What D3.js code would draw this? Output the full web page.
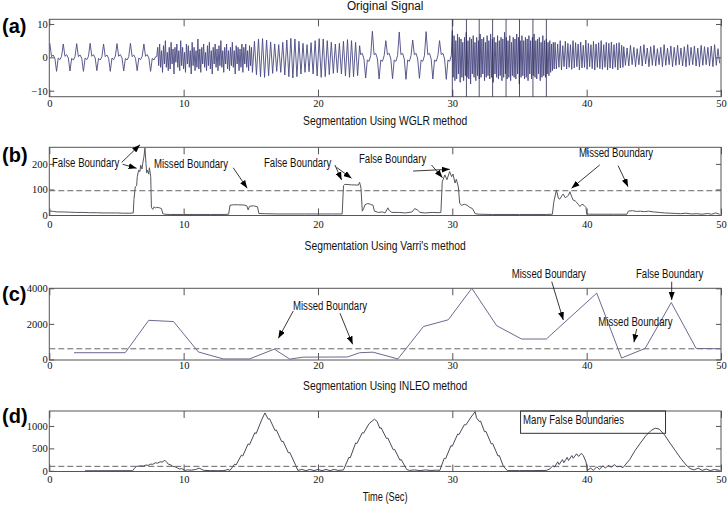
<!DOCTYPE html>
<html>
<head>
<meta charset="utf-8">
<script src="https://cdn.jsdelivr.net/npm/d3@7"></script>
<style>
  body { margin: 0; background: #fff; }
</style>
</head>
<body>
<svg id="chart" width="727" height="505"></svg>
<script>
// ---- data ----
var xTicks = [0, 10, 20, 30, 40, 50];
var aTicks = [-10, 0, 10];
var bTicks = [0, 100, 200];
var cTicks = [0, 2000, 4000];
var dTicks = [0, 500, 1000];

// original signal, one list of extrema per stretch, evenly spread over [start, end]
var sigA = [4.2, 0.2, 0.7, -0.3, -4.2, -0.2, -0.7, 0.3,
            4.0, 0.3, 0.8, -0.2, -4.1, -0.3, -0.8, 0.2,
            4.1, 0.2, 0.7, -0.3, -4.2, -0.2, -0.7, 0.3,
            4.2, 0.3, 0.8, -0.2, -4.0, -0.3, -0.8, 0.2,
            4.0, 0.2, 0.7, -0.3, -4.2, -0.2, -0.7, 0.3,
            4.1, 0.3, 0.8, -0.2, -4.1, -0.3, -0.8, 0.2,
            4.2, 0.2, 0.7, -0.3, -4.0, -0.2, -0.7, 0.3,
            4.0, 0.3, 0.8, -0.2, -4.2, -0.3, -0.8, 0.2];
var sigB = [0.3, 3, -2.5, 4, -3, 2, -4.5, 3.5, -2, 5,
            -3, 1.5, -4, 3, -3.5, 4.5, -2, 2.5, -5, 3,
            -1.5, 4, -3, 2, -4, 5, -2.5, 3, -3.5, 1.5,
            -4.5, 4, -2, 3.5, -3, 2, -5, 4.5, -2.5, 3,
            -4, 2, -3, 5.5, -3.5, 2.5, -4.5, 3, -2, 4,
            -3, 1.5, -4, 3.5, -2.5, 4.5, -3.5, 2, -5, 3,
            -2, 4, -3, 2.5, -4, 3.5, -2.5, 5, -3, 2,
            -4.5, 3, -2, 4, -3.5, 2, -4, 3, -2.5, 4.5,
            -3, 2, -5, 3.5, -2, 3, -4, 2.5, -3, 4,
            -4.5, 3, -2, 4, -3, 2, -4, 3.5, -2.5, 3];
var sigC = [-4.5, 4.8, -5.2, 5.5, -5.8, 5.6, -6, 5.2, -5.5, 4.6,
            -4.8, 4, -4.2, 3.8, -4.5, 4.5, -5.3, 5.2, -5.8, 5.7,
            -6.2, 5.5, -5.8, 4.8, -5, 4.2, -4.5, 3.8, -4.3, 4.4,
            -5, 5, -5.6, 5.6, -6, 5.5, -5.8, 5, -5.2, 4.5,
            -4.8, 4, -4.6, 4.2, -5, 4.8, -5.6, 5.3, -6, 5,
            -5.8, 4.5, -5.5, 3.5];
var sigD = [0.8, 1.2, -0.5, -6.2, -0.8, -1.2, 0.5,
            7.8, 0.8, 1.2, -0.5, -6.5, -0.8, -1.2, 0.5,
            5.0, 0.8, 1.2, -0.5, -6.4, -0.8, -1.2, 0.5,
            7.6, 0.8, 1.2, -0.5, -6.6, -0.8, -1.2, 0.5,
            5.2, 0.8, 1.2, -0.5, -6.3, -0.8, -1.2, 0.5,
            7.7, 0.8, 1.2, -0.5, -6.5, -0.8, -1.2, 0.5,
            5.0, 0.8, 1.2, -0.5, -6.6, -0.8, -1.2, 0.5];
var sigE = [8, -6, 6.5, -7, 5, -6.5, 7, -5, 6, -7.5,
            5.5, -6, 4.5, -7, 6, -5.5, 7.5, -6, 5, -6.5,
            6, -8, 5.5, -5, 6.5, -6, 4.5, -7, 6, -5.5,
            5, -6.5, 7, -6, 5.5, -5, 6, -7, 4.5, -6,
            6.5, -5.5, 5, -6.5, 7, -6, 5.5, -7.5, 6, -5,
            4.5, -6, 6.5, -6.5, 5, -5.5, 6, -7, 5.5, -6,
            7.5, -5, 6, -6.5, 5, -6, 6.5, -7, 4.5, -5.5,
            6, -6, 5.5, -6.5, 7, -5, 6, -8, 5, -6,
            6.5, -5.5, 5, -6.5, 6, -6, 5.5, -7, 6.5, -5,
            5, -6.5, 6, -5.5, 7, -6, 5, -6.5, 5.5, -5,
            6, -7, 4.5, -6, 6.5, -5.5, 5, -6, 5.5, -5,
            4.5, -5.5, 5, -4.5, 4, -4, 4.5, -3.5];
var sigF1 = [4.5, -3.5, 4, -3, 5, -3.8, 3.5, -2.8, 4.8, -3.5,
             4.2, -3, 3.8, -3.6, 5, -3.2, 4.4, -2.8, 4, -3.8,
             4.6, -3.2, 3.6, -3, 5.2, -3.6, 4.2, -2.8, 3.8, -3.4,
             4.8, -3.8, 4, -3, 4.4, -3.4, 5, -3.6, 3.8, -3,
             4.5, -3.8, 4.2, -3.2, 4.6, -3.5, 3.8, -3, 4.2, -3.8,
             4.4, -3.2, 3.6, -3];
var sigF2 = [3.2, -2.4, 2.8, -2.6, 3.6, -2.2, 3, -2.8, 2.6, -2.2,
             3.4, -2.6, 3.8, -2, 2.8, -2.8, 3.2, -2.4, 3.6, -2.6,
             2.6, -2.2, 3, -2.8, 3.8, -2.4, 2.8, -2.2, 3.4, -2.8,
             3, -2.4, 3.6, -2.2, 2.8, -2.6, 3.2, -2.8, 3.8, -2.4,
             3, -2.2, 3.4, -2.6, 2.8, -2.8, 3.6, -2.4, 3.2, -2.2,
             3, -2.6, 3.4, -2.8, 3.8, -2.4, 2.6, -1.8];
var sigSpans = [[0.04, 7.915], [8.0, 15.05], [15.12, 23.1], [23.175, 29.925],
                [30.0, 37.58], [37.65, 42.7], [42.76, 49.9]];
var sigLists = [sigA, sigB, sigC, sigD, sigE, sigF1, sigF2];
var spikeT = [30, 31.05, 32, 33, 34, 35, 36, 37];

// WGLR (t, value)
var wglr = [[0,16],[0.3,14],[0.6,12],[1,12],[1.5,11],[2,10],[2.5,10],[3,9],[3.5,9],[4,8],[4.5,8],[5,8],[5.5,7],[6,7],[6.25,8],
  [6.3,60],[6.4,110],[6.5,115],[6.55,150],[6.65,175],[6.75,170],[6.8,195],[6.9,180],[6.95,200],[7.05,230],[7.12,262],
  [7.2,200],[7.25,165],[7.3,175],[7.4,160],[7.45,185],[7.55,150],[7.6,30],[7.7,22],[7.8,32],[7.9,28],[8,30],[8.2,28],
  [8.35,25],[8.45,5],[8.6,3],[9,2],[10,2],[11,2],[12,2],[13,2],[13.35,3],[13.45,38],[13.7,40],[14,40],[14.5,39],
  [14.7,36],[14.8,20],[14.9,34],[15.2,36],[15.5,32],[15.6,6],[16,5],[17,4],[18,4],[19,4],[20,4],[21,4],[21.8,4],
  [21.9,115],[22,120],[22.5,118],[23,117],[23.1,128],[23.2,105],[23.3,15],[23.4,25],[23.5,40],[23.7,45],[23.9,42],
  [24.1,38],[24.2,15],[24.5,10],[24.8,12],[25,8],[25.2,28],[25.3,18],[25.5,10],[26,10],[26.5,8],[27,12],[27.2,25],
  [27.4,20],[27.6,10],[28,8],[28.5,10],[29,9],[29.15,10],[29.25,130],[29.45,157],[29.6,138],[29.8,170],[29.95,150],
  [30.05,160],[30.2,125],[30.3,140],[30.45,110],[30.55,45],[30.7,38],[30.9,42],[31.1,38],[31.3,30],[31.5,25],[31.7,5],
  [32,3],[33,2],[34,2],[35,2],[36,2],[37,2],[37.45,3],[37.55,50],[37.75,98],[37.9,65],[38.0,62],[38.15,75],[38.25,82],
  [38.4,68],[38.5,70],[38.65,78],[38.75,91],[38.9,70],[39.0,58],[39.15,55],[39.25,50],[39.4,40],[39.5,33],[39.65,42],
  [39.8,38],[39.95,30],[40.0,4],[40.2,3],[41,3],[42,3],[43,3],[43.1,15],[43.4,17],[43.7,14],[44,15],[44.3,13],
  [44.6,15],[45,12],[45.4,10],[45.8,8],[46.2,7],[46.6,6],[47,5],[47.4,7],[47.8,4],[48.2,5],[48.6,3],[49,6],[49.3,3],
  [49.6,8],[49.9,3]];

// Varri (t, value)
var varri = [[1.84,380],[5.65,380],[7.4,2200],[9.25,2130],[11.1,420],[12.95,30],[14.9,30],[16.75,580],[17.9,20],
  [18.9,130],[22.2,140],[23.1,380],[24.1,410],[25.95,30],[27.85,1850],[29.7,2230],[31.45,4000],[33.3,1900],
  [35.15,1150],[37.0,1150],[40.75,3730],[42.6,80],[44.35,620],[46.3,3200],[48.15,620],[50,600]];

// INLEO (t, value)
var inleo = [[2.66,2],[6.2,3],[6.35,60],[6.5,100],[6.8,110],[7.0,105],[7.2,130],[7.35,120],[7.55,150],[7.7,145],
  [7.9,180],[8.05,170],[8.25,200],[8.4,195],[8.6,235],[8.75,190],[8.85,150],[9.05,130],[9.2,100],[9.4,85],[9.55,60],
  [9.7,40],[9.85,50],[10.1,10],[10.3,20],[10.6,15],[10.9,30],[11.15,60],[11.3,40],[11.5,10],[12,5],[12.5,3],[13,5],
  [13.3,30],[13.45,10],[13.8,150],[13.9,130],[14.3,350],[14.4,330],[14.8,600],[14.9,580],[15.3,850],[15.4,830],
  [15.8,1130],[16.05,1290],[16.3,1150],[16.4,1160],[16.8,900],[16.9,910],[17.3,650],[17.4,660],[17.8,400],[17.9,410],
  [18.3,150],[18.5,10],[18.8,30],[19.1,5],[19.4,30],[19.7,5],[20,30],[20.3,5],[20.6,30],[20.9,5],[21.2,30],[21.5,8],
  [21.9,20],[22.3,300],[22.4,290],[22.8,620],[22.9,610],[23.3,850],[23.4,840],[23.8,1050],[24.2,1150],[24.4,1100],
  [24.6,950],[24.7,960],[25.1,720],[25.2,730],[25.6,470],[25.7,480],[26.1,240],[26.2,250],[26.6,30],[26.8,10],
  [27.2,20],[27.6,5],[28,20],[28.4,8],[28.8,15],[29.07,10],[29.4,280],[29.5,270],[29.9,560],[30,550],[30.4,820],
  [30.5,810],[30.9,1030],[31,1020],[31.4,1200],[31.7,1320],[31.8,1180],[32,1100],[32.1,1110],[32.4,870],[32.5,880],
  [32.9,600],[33,610],[33.4,330],[33.5,340],[33.8,100],[34.1,5],[35,5],[36,5],[37,10],[37.25,40],[37.5,120],
  [37.6,80],[37.85,200],[37.95,140],[38.2,250],[38.3,180],[38.55,300],[38.65,230],[38.9,340],[39,280],[39.25,380],
  [39.4,320],[39.6,390],[39.75,340],[39.95,200],[40.05,10],[40.3,60],[40.5,10],[40.75,90],[40.95,30],[41.2,110],
  [41.4,60],[41.6,120],[41.85,80],[42.05,140],[42.25,90],[42.5,100],[42.7,70],[43.2,250],[43.6,450],[44,620],
  [44.4,780],[44.8,900],[45.1,950],[45.4,930],[45.8,800],[46.2,620],[46.6,450],[47,280],[47.4,130],[47.7,50],
  [48,20],[48.3,60],[48.6,10],[48.9,40],[49.2,5],[49.5,30],[49.9,10]];

var thresholds = { b: 95, c: 600, d: 100 };

// annotations (text anchored at left/baseline, arrows [t0, v0, t1, v1] with head at t1,v1)
var notesB = [["False Boundary", 0.2, 189], ["Missed Boundary", 7.79, 182.8], ["False Boundary", 15.98, 189],
              ["False Boundary", 23.05, 202.4], ["Missed Boundary", 39.43, 225.9]];
var arrowsB = [[5.39,206,6.75,275],[5.46,198.5,6.5,182.8],[13.69,185,14.73,104.5],[21.26,195.7,21.76,137],
               [21.38,186.7,22.5,143.7],[27.08,172,29.81,179],[28.45,195.7,29.27,146],[40.97,195.7,38.87,104.5],
               [42.34,193,43.08,110.8]];
var notesC = [["Missed Boundary", 18.14, 2780], ["Missed Boundary", 34.42, 4562], ["False Boundary", 43.67, 4562],
              ["Missed Boundary", 40.87, 1881]];
var arrowsC = [[18.16,2724,17.05,1190],[21.64,2595,22.58,852],[37.4,4371,38.26,2218],[46.33,4371,46.33,3342],
               [43.72,1712,43.52,965]];
var notesD = [["Many False Boundaries", 35.27, 1037]];
var boxD = [35.08, 1333, 45.87, 836];

// ---- layout ----
var svg = d3.select("#chart");
var x = d3.scaleLinear().domain([0, 50]).range([49.3, 721]);
var serif = "'Liberation Serif', 'DejaVu Serif', 'Times New Roman', serif";
var sans = "'Liberation Sans', Arial, sans-serif";

var panels = [
  { key: "a", top: 19.3, bottom: 96.7, dom: [-11.8, 11.4], ticks: aTicks, pad: 2.8, tag: "(a)", tagY: 33.3 },
  { key: "b", top: 147.3, bottom: 215.5, dom: [-2, 265], ticks: bTicks, pad: 5.5, tag: "(b)", tagY: 162 },
  { key: "c", top: 288.3, bottom: 360, dom: [-30, 4000], ticks: cTicks, pad: 1.5, tag: "(c)", tagY: 300.7 },
  { key: "d", top: 411, bottom: 471.5, dom: [-15, 1333], ticks: dTicks, pad: 4.5, tag: "(d)", tagY: 423.3 }
];

var defs = svg.append("defs");
defs.append("marker")
  .attr("id", "head")
  .attr("markerUnits", "userSpaceOnUse")
  .attr("markerWidth", 8).attr("markerHeight", 6)
  .attr("refX", 8).attr("refY", 3)
  .attr("orient", "auto")
  .append("path").attr("d", "M0,0L8,3L0,6Z").attr("fill", "#000");

function squeeze(sel, k) {
  sel.each(function() {
    var w = this.getComputedTextLength();
    d3.select(this).attr("textLength", w * k).attr("lengthAdjust", "spacingAndGlyphs");
  });
}

var scales = {};
panels.forEach(function(p) {
  var y = d3.scaleLinear().domain(p.dom).range([p.bottom, p.top]);
  scales[p.key] = y;
  var g = svg.append("g").attr("class", "panel-" + p.key);

  defs.append("clipPath").attr("id", "clip-" + p.key)
    .append("rect")
    .attr("x", x(0)).attr("y", p.top)
    .attr("width", x(50) - x(0)).attr("height", p.bottom - p.top);

  var bottomAxis = g.append("g")
    .attr("transform", `translate(0,${p.bottom})`)
    .call(d3.axisBottom(x).tickValues(xTicks).tickFormat(d3.format("d"))
      .tickSizeInner(-7).tickSizeOuter(0).tickPadding(p.pad));
  var topAxis = g.append("g")
    .attr("transform", `translate(0,${p.top})`)
    .call(d3.axisTop(x).tickValues(xTicks).tickSizeInner(-7).tickSizeOuter(0).tickFormat(""));
  var leftAxis = g.append("g")
    .attr("transform", `translate(${x(0)},0)`)
    .call(d3.axisLeft(y).tickValues(p.ticks).tickFormat(d3.format("d"))
      .tickSizeInner(-5).tickSizeOuter(0).tickPadding(1.5));
  var rightAxis = g.append("g")
    .attr("transform", `translate(${x(50)},0)`)
    .call(d3.axisRight(y).tickValues(p.ticks).tickSizeInner(-5).tickSizeOuter(0).tickFormat(""));

  [bottomAxis, topAxis, leftAxis, rightAxis].forEach(function(a) {
    a.attr("font-family", serif).attr("font-size", 10.5);
    a.select(".domain").remove();
    a.selectAll("line").attr("stroke", "#555");
    a.selectAll("text").attr("fill", "#111");
  });

  g.append("rect")
    .attr("x", x(0)).attr("y", p.top)
    .attr("width", x(50) - x(0)).attr("height", p.bottom - p.top)
    .attr("fill", "none").attr("stroke", "#555").attr("stroke-width", 1);

  svg.append("text")
    .attr("x", 2).attr("y", p.tagY)
    .attr("font-family", sans)
    .attr("font-size", 20).attr("font-weight", "bold")
    .text(p.tag);
});

// ---- (a) original signal ----
var ya = scales.a;
var sigPts = [];
sigLists.forEach(function(vals, k) {
  var t0 = sigSpans[k][0], t1 = sigSpans[k][1], n = vals.length;
  vals.forEach(function(v, i) { sigPts.push([t0 + (t1 - t0) * i / (n - 1), v]); });
});
var line = function(y) {
  return d3.line().x(function(d) { return x(d[0]); }).y(function(d) { return y(d[1]); });
};
svg.append("path")
  .datum(sigPts)
  .attr("clip-path", "url(#clip-a)")
  .attr("fill", "none").attr("stroke", "#4a4a82").attr("stroke-width", 0.9)
  .attr("d", line(ya));
svg.append("g").attr("clip-path", "url(#clip-a)")
  .selectAll("line").data(spikeT).enter().append("line")
  .attr("x1", function(d) { return x(d); }).attr("x2", function(d) { return x(d); })
  .attr("y1", ya(15)).attr("y2", ya(-15))
  .attr("stroke", "#26264a").attr("stroke-width", 0.8);

// ---- (b), (c), (d) detector outputs ----
var curves = [["b", wglr, "#555560"], ["c", varri, "#6a6a90"], ["d", inleo, "#48485a"]];
curves.forEach(function(c) {
  var y = scales[c[0]];
  svg.append("line")
    .attr("x1", x(0)).attr("x2", x(50))
    .attr("y1", y(thresholds[c[0]])).attr("y2", y(thresholds[c[0]]))
    .attr("stroke", "#666").attr("stroke-width", 1).attr("stroke-dasharray", "6,3");
  svg.append("path")
    .datum(c[1])
    .attr("clip-path", "url(#clip-" + c[0] + ")")
    .attr("fill", "none").attr("stroke", c[2]).attr("stroke-width", 1)
    .attr("d", line(y));
});

// ---- annotations ----
function addNotes(key, notes, arrows) {
  var y = scales[key];
  var t = svg.append("g").selectAll("text").data(notes).enter().append("text")
    .attr("x", function(d) { return x(d[1]); })
    .attr("y", function(d) { return y(d[2]); })
    .attr("font-family", sans)
    .attr("font-size", 12)
    .attr("fill", "#111")
    .text(function(d) { return d[0]; });
  squeeze(t, 0.80);
  svg.append("g").selectAll("line").data(arrows).enter().append("line")
    .attr("x1", function(d) { return x(d[0]); }).attr("y1", function(d) { return y(d[1]); })
    .attr("x2", function(d) { return x(d[2]); }).attr("y2", function(d) { return y(d[3]); })
    .attr("stroke", "#222").attr("stroke-width", 0.9)
    .attr("marker-end", "url(#head)");
}
addNotes("b", notesB, arrowsB);
addNotes("c", notesC, arrowsC);
addNotes("d", notesD, []);
svg.append("rect")
  .attr("x", x(boxD[0])).attr("y", scales.d(boxD[1]))
  .attr("width", x(boxD[2]) - x(boxD[0])).attr("height", scales.d(boxD[3]) - scales.d(boxD[1]))
  .attr("fill", "none").attr("stroke", "#333").attr("stroke-width", 1);

// ---- titles ----
var titles = [["Original Signal", 10, 0.98], ["Segmentation Using WGLR method", 124.5, 0.86],
              ["Segmentation Using Varri's method", 250, 0.86], ["Segmentation Using INLEO method", 389.5, 0.86],
              ["Time (Sec)", 501, 0.77]];
titles.forEach(function(d) {
  var t = svg.append("text")
    .attr("x", (x(0) + x(50)) / 2).attr("y", d[1])
    .attr("text-anchor", "middle")
    .attr("font-family", sans)
    .attr("font-size", 12)
    .attr("fill", "#111")
    .text(d[0]);
  squeeze(t, d[2]);
});
</script>
</body>
</html>
